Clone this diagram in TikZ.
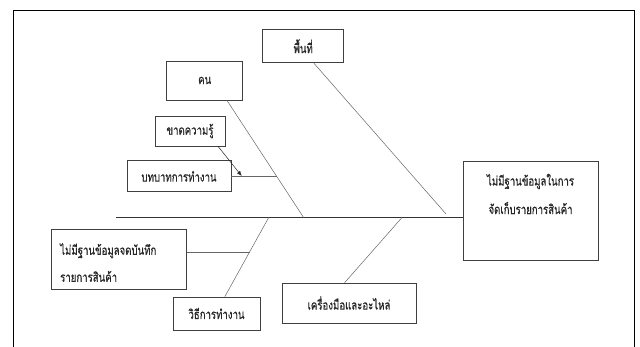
\documentclass[tikz,border=0pt]{standalone}
\usepackage{fontspec}
\newfontfamily\thaifont[Script=Thai,FakeStretch=0.74,FakeBold=0.6]{Loma}
\usetikzlibrary{arrows.meta}
\tikzset{
  thaitext/.style={font=\thaifont\fontsize{13}{15}\selectfont, text=black!85},
  box/.style={draw=black!75, line width=0.6pt, inner sep=0pt, thaitext},
  bone/.style={draw=black!60, line width=0.5pt},
  spine/.style={draw=black!80, line width=0.9pt},
  frameline/.style={draw=black, line width=0.8pt}
}
\begin{document}
\begin{tikzpicture}[x=1pt,y=-1pt]
\useasboundingbox (0,0) rectangle (640,347);
\draw[frameline] (13,347) -- (13,10) -- (634,10) -- (634,347);
% nodes
\node[box, minimum width=81pt, minimum height=33pt] (area) at (303.2,46.3) {พื้นที่};
\node[box, minimum width=76pt, minimum height=39pt] (man) at (204.7,80.5) {คน};
\node[box, minimum width=70pt, minimum height=30pt] (know) at (190,131) {ขาดความรู้};
\node[box, minimum width=104pt, minimum height=31pt] (role) at (179,176.3) {บทบาทการทำงาน};
\node[box, minimum width=135pt, minimum height=99pt] (head) at (530.5,210.5) {};
\node[thaitext, align=center, inner sep=0pt] (headtxt) at (530.5,194) {ไม่มีฐานข้อมูลในการ\\[12pt]จัดเก็บรายการสินค้า};
\node[box, minimum width=135pt, minimum height=60pt] (nodb) at (119,259) {};
\node[thaitext, align=left, inner sep=0pt, anchor=west] (nodbtxt) at (60,262.5) {ไม่มีฐานข้อมูลจดบันทึก\\[12pt]รายการสินค้า};
\node[box, minimum width=87pt, minimum height=33pt] (method) at (216.5,313.5) {วิธีการทำงาน};
\node[box, minimum width=134pt, minimum height=40pt] (tool) at (349,303) {เครื่องมือและอะไหล่};
% coordinates
\coordinate (tail) at (116,217.5);
\coordinate (a1) at (446,214);
\coordinate (m1) at (303.6,217.5);
\coordinate (r1) at (276.7,176.3);
\coordinate (k1) at (241.7,176);
\coordinate (w1) at (268.7,217.5);
\coordinate (n1) at (249.6,252.3);
\coordinate (t1) at (402,217.5);
% connectors
\draw[spine] (tail) -- (head.west |- tail);
\draw[bone] ([xshift=10.6pt]area.south) -- (a1);
\draw[bone] ([xshift=22.2pt]man.south) -- (m1);
\draw[bone] (role.east) -- (r1);
\draw[bone, draw=black!85, -{Latex[length=5pt,width=4pt]}] ([xshift=28pt]know.south) -- (k1);
\draw[bone] ([xshift=8.3pt]method.north) -- (w1);
\draw[bone] ([yshift=6.7pt]nodb.east) -- (n1);
\draw[bone] ([xshift=-4.4pt]tool.north) -- (t1);
\end{tikzpicture}
\end{document}
